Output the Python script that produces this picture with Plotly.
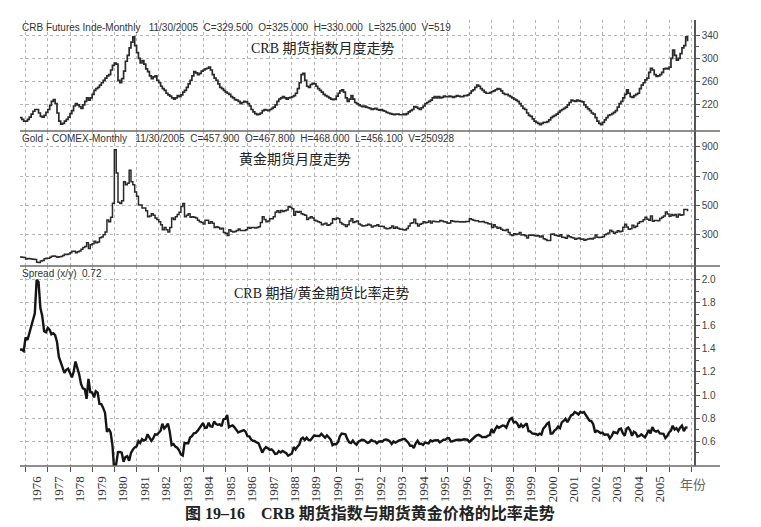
import pandas as pd
import plotly.graph_objects as go
from plotly.subplots import make_subplots

# Monthly closes, Oct 1975 .. Nov 2005
first_month = "1975-10-01"

crb_close = [
    198, 195, 192,                                                   # 1975 (Oct-Dec)
    192, 195, 199, 204, 209, 212, 212, 206, 200, 199, 202, 207,      # 1976
    212, 219, 226, 229, 222, 206, 192, 187, 188, 192, 195, 199,      # 1977
    205, 210, 218, 222, 220, 217, 214, 220, 226, 232, 228, 232,      # 1978
    238, 245, 248, 250, 254, 258, 262, 266, 270, 272, 280, 288,      # 1979
    292, 290, 262, 258, 265, 278, 295, 305, 318, 328, 337, 322,      # 1980
    310, 300, 292, 296, 290, 282, 277, 270, 265, 268, 270, 262,      # 1981
    258, 252, 248, 245, 240, 237, 235, 232, 230, 232, 236, 234,      # 1982
    237, 242, 245, 250, 256, 262, 270, 277, 275, 272, 274, 278,      # 1983
    280, 282, 283, 285, 280, 272, 266, 262, 256, 250, 248, 245,      # 1984
    242, 240, 238, 234, 232, 229, 228, 226, 222, 224, 226, 225,      # 1985
    222, 218, 212, 208, 205, 203, 204, 206, 210, 212, 211, 210,      # 1986
    212, 214, 216, 220, 226, 230, 232, 234, 232, 230, 232, 233,      # 1987
    234, 236, 240, 248, 258, 272, 274, 262, 252, 250, 255, 257,      # 1988
    256, 252, 248, 245, 242, 238, 236, 234, 232, 230, 229, 230,      # 1989
    235, 240, 244, 246, 242, 232, 226, 230, 236, 230, 224, 222,      # 1990
    220, 218, 217, 218, 216, 215, 214, 212, 213, 214, 212, 211,      # 1991
    212, 210, 209, 207, 206, 205, 204, 203, 204, 204, 203, 203,      # 1992
    204, 203, 205, 208, 210, 212, 217, 216, 214, 212, 215, 218,      # 1993
    222, 224, 226, 228, 232, 234, 232, 234, 232, 233, 235, 234,      # 1994
    234, 235, 234, 233, 234, 236, 235, 234, 234, 236, 236, 237,      # 1995
    240, 244, 246, 250, 254, 252, 248, 245, 242, 240, 240, 241,      # 1996
    243, 244, 246, 248, 247, 244, 240, 238, 238, 236, 234, 232,      # 1997
    230, 228, 226, 222, 218, 214, 212, 206, 202, 200, 196, 192,      # 1998
    190, 188, 186, 188, 190, 190, 191, 194, 198, 200, 202, 204,      # 1999
    207, 210, 212, 214, 216, 220, 224, 228, 227, 226, 228, 227,      # 2000
    226, 225, 220, 216, 213, 210, 206, 204, 198, 192, 188, 186,      # 2001
    190, 194, 198, 202, 203, 205, 207, 210, 216, 222, 226, 232,      # 2002
    238, 246, 240, 234, 233, 236, 238, 240, 248, 254, 258, 263,      # 2003
    266, 276, 283, 280, 272, 269, 270, 272, 276, 282, 283, 282,      # 2004
    285, 300, 314, 305, 297, 300, 308, 318, 322, 337, 329.5,         # 2005 (Jan-Nov)
]

gold_close = [
    142, 140, 139,                                                   # 1975 (Oct-Dec)
    128, 132, 130, 128, 126, 124, 106, 104, 114, 118, 130, 134,      # 1976
    134, 140, 148, 149, 146, 141, 144, 146, 153, 161, 160, 162,      # 1977
    172, 182, 182, 172, 178, 184, 195, 208, 215, 240, 200, 226,      # 1978
    233, 250, 240, 245, 275, 280, 295, 315, 397, 385, 415, 512,      # 1979
    880, 720, 520, 510, 530, 660, 640, 650, 740, 660, 640, 590,      # 1980
    560, 500, 500, 480, 480, 460, 420, 425, 440, 430, 410, 400,      # 1981
    385, 365, 330, 345, 330, 315, 345, 410, 400, 420, 435, 450,      # 1982
    490, 510, 420, 430, 440, 415, 420, 415, 410, 395, 385, 380,      # 1983
    370, 395, 395, 375, 385, 375, 345, 350, 345, 335, 340, 310,      # 1984
    305, 290, 330, 320, 315, 318, 325, 335, 325, 325, 325, 330,      # 1985
    345, 340, 345, 345, 342, 345, 350, 380, 420, 400, 385, 390,      # 1986
    405, 405, 420, 450, 460, 448, 462, 455, 460, 465, 490, 485,      # 1987
    475, 430, 455, 450, 455, 440, 435, 430, 400, 410, 420, 410,      # 1988
    395, 390, 385, 380, 365, 370, 375, 360, 365, 375, 405, 400,      # 1989
    410, 405, 380, 370, 365, 352, 365, 390, 405, 380, 385, 390,      # 1990
    370, 362, 355, 358, 360, 368, 362, 348, 355, 358, 365, 354,      # 1991
    354, 352, 342, 337, 338, 343, 355, 340, 348, 340, 335, 333,      # 1992
    330, 328, 338, 355, 375, 378, 402, 372, 355, 368, 372, 384,      # 1993
    378, 382, 390, 376, 388, 386, 384, 385, 394, 390, 384, 383,      # 1994
    374, 376, 392, 389, 385, 387, 384, 383, 384, 383, 386, 387,      # 1995
    405, 400, 396, 392, 391, 385, 384, 387, 380, 378, 371, 369,      # 1996
    345, 364, 350, 340, 345, 334, 326, 325, 332, 311, 296, 290,      # 1997
    302, 297, 301, 310, 293, 296, 288, 273, 294, 292, 294, 288,      # 1998
    287, 288, 280, 286, 268, 262, 255, 255, 298, 300, 292, 290,      # 1999
    285, 295, 278, 276, 272, 288, 282, 277, 273, 265, 270, 273,      # 2000
    265, 266, 258, 262, 266, 270, 266, 273, 293, 278, 276, 278,      # 2001
    282, 296, 301, 308, 326, 318, 305, 312, 323, 316, 319, 347,      # 2002
    368, 348, 334, 337, 361, 346, 354, 375, 385, 386, 398, 416,      # 2003
    402, 396, 424, 388, 394, 394, 391, 408, 415, 425, 452, 438,      # 2004
    422, 434, 428, 435, 417, 436, 430, 433, 469, 470, 457.9,         # 2005 (Jan-Nov)
]

year_labels = [str(y) for y in range(1976, 2006)]

header_crb = "CRB Futures Inde-Monthly   11/30/2005  C=329.500  O=325.000  H=330.000  L=325.000  V=519"
header_gold = "Gold - COMEX-Monthly   11/30/2005  C=457.900  O=467.800  H=468.000  L=456.100  V=250928"
header_spread = "Spread (x/y)  0.72"

title_crb = "CRB 期货指数月度走势"
title_gold = "黄金期货月度走势"
title_spread = "CRB 期指/黄金期货比率走势"
caption = "<b>图 19–16    CRB 期货指数与期货黄金价格的比率走势</b>"

crb_ticks = [220, 260, 300, 340]
gold_ticks = [300, 500, 700, 900]
spread_ticks = [0.6, 0.8, 1.0, 1.2, 1.4, 1.6, 1.8, 2.0]

assert len(crb_close) == len(gold_close)
months = pd.date_range(first_month, periods=len(crb_close), freq="MS")
# Spread (x/y) is simply CRB divided by gold
spread = [c / g for c, g in zip(crb_close, gold_close)]

# The page body has an 8px margin, so the figure is shrunk by that much
OFF = 8
W, H = 761 - OFF, 527 - OFF
L, R, T, B = 12, 67, 12, 61
plot_w = W - L - R
plot_h = H - T - B

x_start = pd.Timestamp("1975-10-01")
x_end = pd.Timestamp("2006-02-15")


def nbsp(s):
    # keep the multiple spaces of the header lines
    return s.replace(" ", "\u00a0")


def py(ypage):
    # page pixel row -> paper y
    return (H - B - (ypage - OFF)) / plot_h


def px(xpage):
    # page pixel column -> paper x
    return (xpage - OFF - L) / plot_w


def date_at(xpage):
    return x_start + (x_end - x_start) * px(xpage)


# the printed year labels sit slightly tighter than the yearly tick marks
label_dates = [date_at(37 + (660 - 37) * i / (len(year_labels) - 1)) for i in range(len(year_labels))]

fig = make_subplots(
    rows=3, cols=1, shared_xaxes=True, vertical_spacing=0,
    row_heights=[111, 135, 200],
)

fig.add_trace(go.Scatter(x=months, y=crb_close, mode="lines", line_shape="hv",
                         line=dict(color="#2a2a2a", width=1.7), showlegend=False), row=1, col=1)
fig.add_trace(go.Scatter(x=months, y=gold_close, mode="lines", line_shape="hv",
                         line=dict(color="#2a2a2a", width=1.5), showlegend=False), row=2, col=1)
fig.add_trace(go.Scatter(x=months, y=spread, mode="lines",
                         line=dict(color="#151515", width=2.4), showlegend=False), row=3, col=1)
# empty trace so the label-only axis gets drawn
fig.add_trace(go.Scatter(x=months, y=spread, mode="none", xaxis="x4", yaxis="y3",
                         hoverinfo="skip", showlegend=False))

grid = dict(showgrid=True, gridcolor="#b5b5b5", gridwidth=1, griddash="dot")
tick_font = dict(family="Liberation Sans, Arial", size=10, color="#444")
year_font = dict(family="Liberation Serif, Times New Roman", size=13, color="#333")

fig.update_xaxes(
    type="date", range=[x_start, x_end],
    dtick="M12", tick0="1976-01-01", zeroline=False, showline=False, **grid,
)
fig.update_xaxes(row=3, col=1, ticks="outside", ticklen=5, tickcolor="#555",
                 tickwidth=1, showticklabels=False)

# second bottom axis only carries the year labels
fig.update_layout(
    xaxis4=dict(
        overlaying="x3", anchor="y3", side="bottom", type="date",
        range=[x_start, x_end], tickmode="array", tickvals=label_dates,
        ticktext=year_labels, tickangle=-90, tickfont=year_font,
        ticks="outside", ticklen=4, tickcolor="rgba(0,0,0,0)",
        showgrid=False, zeroline=False, showline=False,
    )
)

yaxis_common = dict(
    side="right", showline=True, linecolor="#555", linewidth=1.5,
    ticks="outside", ticklen=4, tickcolor="#555", tickfont=tick_font,
    zeroline=False, **grid,
)
fig.update_yaxes(row=1, col=1, range=[175, 366], tickvals=crb_ticks,
                 minor=dict(tickvals=[200, 240, 280, 320], ticks="outside", ticklen=3,
                            tickcolor="#555", showgrid=False),
                 **yaxis_common)
fig.update_yaxes(row=2, col=1, range=[80, 1010], tickvals=gold_ticks,
                 minor=dict(tickvals=[200, 400, 600, 800], ticks="outside", ticklen=3,
                            tickcolor="#555", showgrid=False),
                 **yaxis_common)
fig.update_yaxes(row=3, col=1, range=[0.384, 2.12], tickvals=spread_ticks,
                 ticktext=[f"{v:.1f}" for v in spread_ticks],
                 minor=dict(tickvals=[0.5, 0.7, 0.9, 1.1, 1.3, 1.5, 1.7, 1.9], ticks="outside",
                            ticklen=3, tickcolor="#555", showgrid=False),
                 **yaxis_common)

# panel separators and the bottom axis line run a little past the price scale
for ypage in [131, 266, 466]:
    fig.add_shape(type="line", xref="paper", yref="paper", x0=0, x1=px(720),
                  y0=py(ypage), y1=py(ypage), line=dict(color="#6a6a6a", width=1.5))

head_font = dict(family="Liberation Sans, Arial", size=10, color="#333")
for text, ypage in [(header_crb, 27), (header_gold, 138), (header_spread, 273)]:
    fig.add_annotation(text=nbsp(text), xref="paper", yref="paper", x=px(20), y=py(ypage),
                       xanchor="left", yanchor="middle", showarrow=False, font=head_font)

title_font = dict(family="Liberation Serif, Noto Sans CJK SC", size=14, color="#222")
for text, xpage, ypage in [(title_crb, 323, 48), (title_gold, 295, 159), (title_spread, 321, 293)]:
    fig.add_annotation(text=text, xref="paper", yref="paper", x=px(xpage), y=py(ypage),
                       xanchor="center", yanchor="middle", showarrow=False, font=title_font)

fig.add_annotation(text="年份", xref="paper", yref="paper", x=px(693), y=py(483),
                   xanchor="center", yanchor="middle", showarrow=False,
                   font=dict(family="Noto Sans CJK SC", size=13, color="#666"))
fig.add_annotation(text=caption, xref="paper", yref="paper", x=px(370), y=py(513),
                   xanchor="center", yanchor="middle", showarrow=False,
                   font=dict(family="Liberation Serif, Noto Sans CJK SC", size=16, color="#222"))

fig.update_layout(
    width=W, height=H, margin=dict(l=L, r=R, t=T, b=B),
    paper_bgcolor="white", plot_bgcolor="white", showlegend=False,
)

fig.write_html("out.html")
